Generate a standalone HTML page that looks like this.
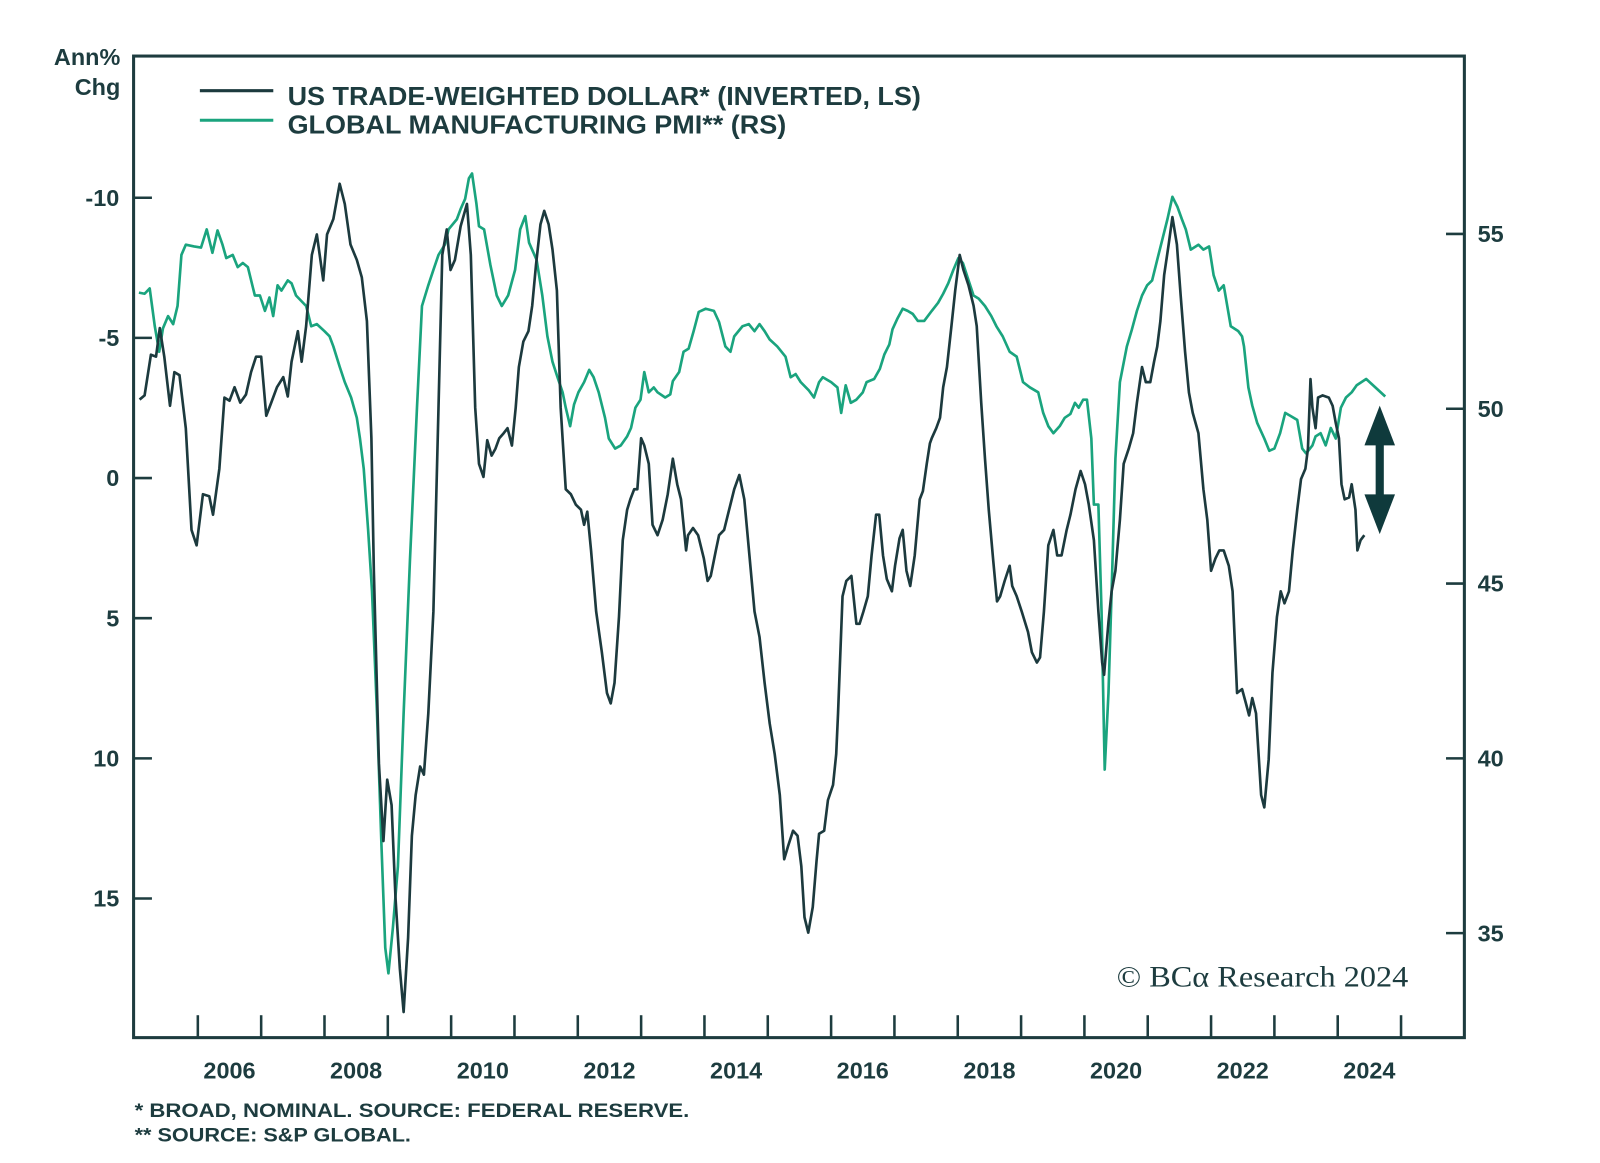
<!DOCTYPE html>
<html><head><meta charset="utf-8"><title>US Dollar vs Global PMI</title>
<style>
html,body{margin:0;padding:0;background:#fff;}
svg{display:block;}
text{font-family:"Liberation Sans",sans-serif;fill:#1d3c3f;}
.tk{font-weight:bold;font-size:23px;}
</style></head>
<body>
<svg id="chart" width="1600" height="1163" viewBox="0 0 1569 1141" preserveAspectRatio="none" xmlns="http://www.w3.org/2000/svg">
  <rect x="131" y="55" width="1305" height="963" fill="none" stroke="#1d3c3f" stroke-width="3"/>
  <g id="ticks"></g>
  <g id="labels"></g>
  <g id="series"></g>
  <text x="118" y="64" text-anchor="end" font-size="23" font-weight="bold">Ann%</text>
  <text x="118" y="93" text-anchor="end" font-size="23" font-weight="bold">Chg</text>
  <g>
    <line x1="196" y1="89" x2="268" y2="89" stroke="#1c3a3e" stroke-width="3"/>
    <text x="282" y="103" font-size="25" font-weight="bold" textLength="621" lengthAdjust="spacingAndGlyphs">US TRADE-WEIGHTED DOLLAR* (INVERTED, LS)</text>
    <line x1="196" y1="118" x2="268" y2="118" stroke="#1aa47e" stroke-width="3"/>
    <text x="282" y="131" font-size="25" font-weight="bold" textLength="489" lengthAdjust="spacingAndGlyphs">GLOBAL MANUFACTURING PMI** (RS)</text>
  </g>
  <g fill="#0f3a3c">
    <rect x="1349" y="425" width="8" height="72"/>
    <polygon points="1353,398 1368,437 1338,437"/>
    <polygon points="1353,524 1368,485 1338,485"/>
  </g>
  <text x="1095" y="968" style="font-family:'Liberation Serif',serif" font-size="29" textLength="286" lengthAdjust="spacingAndGlyphs">© BCα Research 2024</text>
  <text x="132" y="1096" font-size="19" font-weight="bold" textLength="544" lengthAdjust="spacingAndGlyphs">*  BROAD, NOMINAL. SOURCE: FEDERAL RESERVE.</text>
  <text x="132" y="1120" font-size="19" font-weight="bold" textLength="271" lengthAdjust="spacingAndGlyphs">** SOURCE: S&amp;P GLOBAL.</text>
</svg>
<script>
const dollarDates=[2005.08,2005.16,2005.26,2005.34,2005.40,2005.47,2005.56,2005.63,2005.71,2005.81,2005.90,2005.98,2006.08,2006.18,2006.24,2006.34,2006.42,2006.50,2006.58,2006.67,2006.76,2006.84,2006.92,2007.00,2007.08,2007.16,2007.25,2007.35,2007.42,2007.48,2007.58,2007.64,2007.71,2007.80,2007.88,2007.98,2008.04,2008.14,2008.24,2008.32,2008.41,2008.51,2008.59,2008.67,2008.74,2008.78,2008.86,2008.93,2008.99,2009.06,2009.12,2009.19,2009.25,2009.32,2009.38,2009.44,2009.51,2009.57,2009.64,2009.72,2009.80,2009.86,2009.93,2009.99,2010.06,2010.15,2010.25,2010.31,2010.38,2010.44,2010.51,2010.57,2010.64,2010.70,2010.76,2010.83,2010.89,2010.96,2011.02,2011.07,2011.14,2011.22,2011.28,2011.34,2011.41,2011.47,2011.54,2011.60,2011.67,2011.73,2011.81,2011.89,2011.97,2012.05,2012.10,2012.15,2012.21,2012.29,2012.38,2012.46,2012.52,2012.58,2012.65,2012.71,2012.78,2012.83,2012.89,2012.94,2013.00,2013.05,2013.12,2013.18,2013.26,2013.34,2013.42,2013.50,2013.57,2013.63,2013.71,2013.74,2013.82,2013.90,2013.99,2014.05,2014.10,2014.18,2014.23,2014.31,2014.39,2014.47,2014.55,2014.63,2014.71,2014.79,2014.87,2014.95,2015.03,2015.11,2015.19,2015.26,2015.32,2015.40,2015.47,2015.53,2015.58,2015.64,2015.71,2015.77,2015.81,2015.89,2015.95,2016.03,2016.08,2016.11,2016.18,2016.24,2016.32,2016.40,2016.45,2016.51,2016.58,2016.64,2016.71,2016.76,2016.82,2016.88,2016.96,2017.01,2017.08,2017.13,2017.19,2017.25,2017.32,2017.40,2017.45,2017.51,2017.56,2017.59,2017.66,2017.72,2017.77,2017.83,2017.90,2017.96,2018.03,2018.09,2018.17,2018.25,2018.30,2018.37,2018.43,2018.49,2018.56,2018.62,2018.67,2018.74,2018.82,2018.86,2018.93,2019.01,2019.11,2019.17,2019.25,2019.30,2019.36,2019.43,2019.51,2019.57,2019.64,2019.72,2019.78,2019.86,2019.94,2020.01,2020.07,2020.15,2020.22,2020.28,2020.31,2020.38,2020.43,2020.49,2020.56,2020.62,2020.70,2020.77,2020.83,2020.91,2020.97,2021.04,2021.10,2021.15,2021.20,2021.26,2021.33,2021.39,2021.46,2021.52,2021.59,2021.65,2021.71,2021.80,2021.88,2021.94,2022.00,2022.07,2022.13,2022.20,2022.28,2022.34,2022.41,2022.49,2022.55,2022.60,2022.65,2022.71,2022.75,2022.79,2022.84,2022.91,2022.97,2023.04,2023.10,2023.16,2023.23,2023.29,2023.36,2023.42,2023.49,2023.53,2023.57,2023.60,2023.65,2023.69,2023.76,2023.86,2023.92,2023.97,2024.02,2024.06,2024.11,2024.18,2024.22,2024.28,2024.31,2024.36,2024.42];
const dollarValues=[-2.8,-2.95,-4.4,-4.33,-5.35,-4.33,-2.58,-3.78,-3.67,-1.78,1.85,2.4,0.58,0.65,1.31,-0.33,-2.87,-2.76,-3.24,-2.69,-2.98,-3.78,-4.33,-4.33,-2.22,-2.69,-3.24,-3.6,-2.91,-4.15,-5.24,-4.15,-5.42,-7.96,-8.69,-7.05,-8.69,-9.24,-10.5,-9.78,-8.33,-7.78,-7.16,-5.6,-1.42,3.31,10.2,12.95,10.76,11.67,14.95,17.5,19.05,16.4,12.76,11.31,10.29,10.58,8.4,4.76,-2.51,-7.96,-8.87,-7.42,-7.78,-8.98,-9.78,-7.96,-2.51,-0.51,-0.04,-1.35,-0.8,-1.05,-1.42,-1.6,-1.78,-1.16,-2.51,-3.96,-4.87,-5.24,-6.15,-7.6,-9.05,-9.53,-9.05,-8.15,-6.69,-2.51,0.4,0.58,0.95,1.13,1.67,1.2,2.58,4.76,6.22,7.67,8.04,7.31,4.95,2.22,1.13,0.76,0.4,0.4,-1.42,-1.16,-0.51,1.67,2.04,1.49,0.58,-0.69,0.22,0.76,2.58,2.04,1.78,2.04,2.87,3.67,3.49,2.58,2.04,1.85,1.13,0.4,-0.11,0.76,2.76,4.76,5.67,7.31,8.76,9.85,11.31,13.6,13.13,12.58,12.76,13.85,15.67,16.22,15.31,13.67,12.69,12.58,11.49,10.95,9.85,8.4,4.22,3.67,3.49,5.2,5.2,4.76,4.22,2.76,1.31,1.31,2.76,3.6,4.04,3.13,2.15,1.85,3.31,3.85,2.76,0.76,0.47,-0.51,-1.24,-1.42,-1.78,-2.15,-3.24,-3.96,-5.42,-6.69,-7.96,-7.42,-6.87,-6.15,-5.42,-2.69,-0.69,1.13,2.95,4.4,4.22,3.67,3.13,3.85,4.22,4.76,5.49,6.22,6.58,6.4,4.76,2.4,1.85,2.76,2.76,1.85,1.31,0.4,-0.25,0.22,0.95,2.22,4.76,6.58,7.02,5.13,4.04,3.31,1.49,-0.51,-1.05,-1.6,-2.69,-3.96,-3.42,-3.42,-4.15,-4.69,-5.6,-7.24,-8.33,-9.31,-8.33,-6.51,-4.51,-3.05,-2.33,-1.6,0.4,1.49,3.31,2.87,2.58,2.58,3.13,4.04,7.67,7.53,8.04,8.47,7.85,8.4,9.85,11.31,11.75,10.04,6.95,4.95,4.04,4.47,4.04,2.58,1.13,0.04,-0.33,-1.05,-3.53,-2.51,-1.78,-2.87,-2.95,-2.87,-2.58,-1.96,-1.42,0.22,0.76,0.69,0.22,1.13,2.58,2.22,2.04];
const pmiDates=[2005.07,2005.16,2005.24,2005.32,2005.39,2005.45,2005.53,2005.61,2005.68,2005.74,2005.81,2005.94,2006.05,2006.14,2006.23,2006.31,2006.39,2006.45,2006.55,2006.63,2006.71,2006.79,2006.90,2006.98,2007.06,2007.13,2007.19,2007.26,2007.32,2007.42,2007.48,2007.55,2007.71,2007.79,2007.88,2008.00,2008.08,2008.14,2008.24,2008.32,2008.42,2008.51,2008.56,2008.62,2008.69,2008.75,2008.83,2008.90,2008.96,2009.01,2009.08,2009.16,2009.25,2009.35,2009.46,2009.54,2009.64,2009.72,2009.80,2009.90,2009.96,2010.09,2010.15,2010.22,2010.28,2010.33,2010.40,2010.44,2010.52,2010.62,2010.72,2010.80,2010.90,2011.01,2011.09,2011.17,2011.23,2011.35,2011.44,2011.52,2011.60,2011.68,2011.76,2011.81,2011.88,2011.94,2012.01,2012.10,2012.18,2012.25,2012.33,2012.43,2012.49,2012.59,2012.68,2012.78,2012.84,2012.91,2012.99,2013.05,2013.12,2013.20,2013.26,2013.38,2013.46,2013.50,2013.60,2013.67,2013.75,2013.83,2013.91,2014.02,2014.15,2014.23,2014.33,2014.41,2014.47,2014.60,2014.70,2014.79,2014.87,2014.95,2015.03,2015.15,2015.28,2015.36,2015.44,2015.52,2015.65,2015.73,2015.81,2015.87,2016.00,2016.10,2016.16,2016.23,2016.31,2016.40,2016.50,2016.56,2016.68,2016.77,2016.84,2016.92,2016.97,2017.05,2017.13,2017.21,2017.29,2017.37,2017.47,2017.59,2017.69,2017.77,2017.85,2017.93,2018.01,2018.08,2018.17,2018.25,2018.33,2018.43,2018.53,2018.61,2018.71,2018.82,2018.93,2019.03,2019.14,2019.27,2019.35,2019.43,2019.51,2019.61,2019.69,2019.78,2019.85,2019.91,2019.98,2020.04,2020.11,2020.15,2020.22,2020.27,2020.32,2020.38,2020.43,2020.49,2020.56,2020.67,2020.75,2020.83,2020.91,2020.99,2021.07,2021.15,2021.23,2021.31,2021.39,2021.47,2021.54,2021.60,2021.68,2021.80,2021.88,2021.97,2022.04,2022.12,2022.20,2022.31,2022.43,2022.49,2022.52,2022.59,2022.65,2022.73,2022.84,2022.92,2023.00,2023.09,2023.17,2023.25,2023.36,2023.44,2023.50,2023.60,2023.65,2023.73,2023.81,2023.89,2023.97,2024.05,2024.13,2024.22,2024.30,2024.45,2024.60,2024.75];
const pmiValues=[53.32,53.29,53.44,52.36,51.63,52.3,52.65,52.42,52.94,54.4,54.69,54.64,54.61,55.13,54.46,55.1,54.69,54.31,54.4,54.05,54.17,54.05,53.24,53.24,52.8,53.18,52.65,53.53,53.38,53.67,53.59,53.24,52.94,52.36,52.42,52.22,52.07,51.78,51.2,50.76,50.32,49.74,49.15,48.28,46.53,44.78,41.28,37.49,34.58,33.85,35.16,36.91,41.28,45.66,50.03,52.94,53.53,53.97,54.4,54.69,55.13,55.42,55.71,56.0,56.59,56.73,55.86,55.22,55.13,54.11,53.24,52.94,53.24,53.97,55.13,55.51,54.75,54.26,53.24,52.07,51.34,50.9,50.47,50.03,49.5,50.12,50.47,50.76,51.11,50.9,50.47,49.74,49.15,48.86,48.95,49.21,49.45,50.03,50.26,51.05,50.47,50.61,50.47,50.32,50.41,50.79,51.05,51.63,51.72,52.22,52.77,52.86,52.8,52.48,51.78,51.63,52.07,52.36,52.42,52.22,52.42,52.22,51.98,51.78,51.49,50.9,50.99,50.76,50.52,50.32,50.76,50.9,50.76,50.61,49.88,50.67,50.17,50.26,50.47,50.76,50.85,51.14,51.55,51.84,52.27,52.59,52.86,52.8,52.71,52.51,52.51,52.8,53.03,53.29,53.59,53.97,54.31,54.17,53.67,53.24,53.15,52.94,52.65,52.36,52.07,51.63,51.49,50.76,50.61,50.47,49.88,49.5,49.3,49.5,49.74,49.85,50.17,50.03,50.26,50.26,49.15,47.26,47.26,44.2,39.68,41.87,44.78,48.57,50.76,51.78,52.27,52.8,53.24,53.53,53.67,54.26,54.84,55.42,56.06,55.77,55.42,55.13,54.55,54.69,54.55,54.64,53.82,53.38,53.53,52.36,52.22,52.07,51.78,50.61,50.09,49.59,49.15,48.8,48.86,49.3,49.88,49.8,49.68,48.86,48.72,48.95,49.21,49.3,48.95,49.45,49.15,50.03,50.32,50.47,50.67,50.85,50.6,50.35];
const leftTickValues=[-10,-5,0,5,10,15];
const rightTickValues=[55,50,45,40,35];
const yearTicks=[2006,2007,2008,2009,2010,2011,2012,2013,2014,2015,2016,2017,2018,2019,2020,2021,2022,2023,2024,2025];
const yearLabels=[2006,2008,2010,2012,2014,2016,2018,2020,2022,2024];

const NS='http://www.w3.org/2000/svg';
function xScale(yr){return 194+(yr-2006)*62.1;}
function yLeft(v){return 469+v*27.5;}
function yRight(p){return 401-(p-50)*34.3;}
function mk(tag,attrs,parent){const e=document.createElementNS(NS,tag);for(const k in attrs)e.setAttribute(k,attrs[k]);parent.appendChild(e);return e;}

const ticks=document.getElementById('ticks');
const labels=document.getElementById('labels');
const series=document.getElementById('series');
const tstyle={stroke:'#1d3c3f','stroke-width':2.5};

leftTickValues.forEach(v=>{
  const y=yLeft(v);
  const l=mk('line',Object.assign({x1:131,y1:y,x2:149,y2:y},tstyle),ticks);
  
  
  const t=mk('text',{x:117,y:y+8,'text-anchor':'end','class':'tk'},labels);
  t.textContent=String(v);
  
  
});
rightTickValues.forEach(v=>{
  const y=yRight(v);
  const l=mk('line',Object.assign({x1:1418,y1:y,x2:1436,y2:y},tstyle),ticks);
  
  
  const t=mk('text',{x:1449,y:y+8,'class':'tk'},labels);
  t.textContent=String(v);
  
  
});
yearTicks.forEach(yr=>{
  const x=xScale(yr);
  const l=mk('line',Object.assign({x1:x,y1:1018,x2:x,y2:996},tstyle),ticks);
  
  
});
yearLabels.forEach(yr=>{
  const t=mk('text',{x:xScale(yr+0.5),y:1058,'text-anchor':'middle','class':'tk'},labels);
  t.textContent=String(yr);
  
  
});

function pathFrom(dates,vals,yf){
  return dates.map((d,i)=>(i?'L':'M')+xScale(d).toFixed(1)+','+yf(vals[i]).toFixed(1)).join('');
}
const pmiLine=mk('path',{d:pathFrom(pmiDates,pmiValues,yRight),fill:'none',stroke:'#1aa47e','stroke-width':2.6,'stroke-linejoin':'round'},series);


const dollarLine=mk('path',{d:pathFrom(dollarDates,dollarValues,yLeft),fill:'none',stroke:'#1c3a3e','stroke-width':2.6,'stroke-linejoin':'round'},series);


</script>
</body></html>
